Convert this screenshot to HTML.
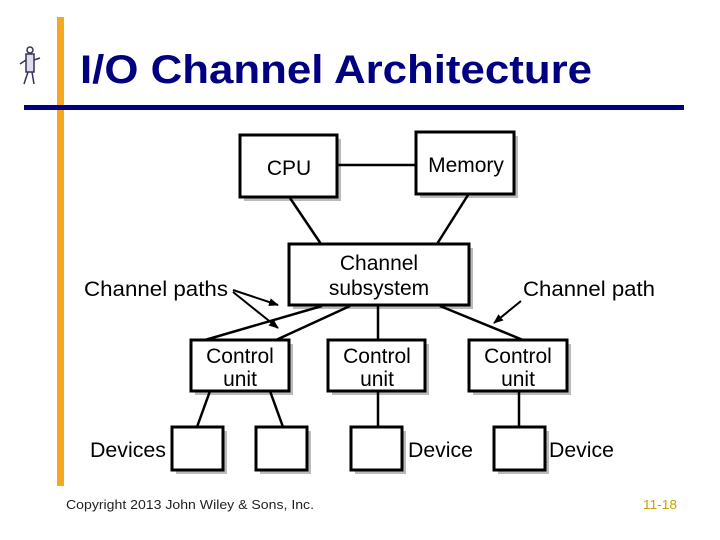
<!DOCTYPE html>
<html><head><meta charset="utf-8"><style>
body{margin:0;background:#fff;width:720px;height:540px;overflow:hidden;position:relative;font-family:"Liberation Sans",sans-serif}
</style></head><body>
<svg width="720" height="540" style="position:absolute;left:0;top:0" font-family="Liberation Sans, sans-serif">
<defs><marker id="a" markerWidth="10" markerHeight="8" refX="9" refY="4" orient="auto" markerUnits="userSpaceOnUse"><path d="M0,0 L10,4 L0,8 Z" fill="#000"/></marker></defs>
<rect x="57" y="17" width="7" height="469" fill="#f5a623"/>
<rect x="24" y="105" width="660" height="5" fill="#000080"/>
<text x="80" y="83" font-size="40" font-weight="bold" fill="#000080" textLength="512" lengthAdjust="spacingAndGlyphs">I/O Channel Architecture</text>
<g transform="translate(30,62)" stroke="#335" fill="none" stroke-width="1.5">
<circle cx="0" cy="-12" r="3"/><rect x="-4" y="-8" width="8" height="18" fill="#dde"/>
<path d="M-4,-2 L-10,2 M4,-2 L10,-4 M-2,10 L-6,22 M2,10 L4,22"/></g>
<g fill="#bbb">
<rect x="244" y="139" width="97" height="62"/><rect x="420" y="136" width="98" height="62"/>
<rect x="293" y="248" width="180" height="61"/>
<rect x="195" y="344" width="98" height="51"/><rect x="332" y="344" width="97" height="51"/><rect x="473" y="344" width="98" height="51"/>
<rect x="176" y="431" width="51" height="43"/><rect x="260" y="431" width="51" height="43"/><rect x="355" y="431" width="51" height="43"/><rect x="498" y="431" width="51" height="43"/>
</g>
<g fill="#fff" stroke="#000" stroke-width="3">
<rect x="240" y="135" width="97" height="62"/><rect x="416" y="132" width="98" height="62"/>
<rect x="289" y="244" width="180" height="61"/>
<rect x="191" y="340" width="98" height="51"/><rect x="328" y="340" width="97" height="51"/><rect x="469" y="340" width="98" height="51"/>
<rect x="172" y="427" width="51" height="43"/><rect x="256" y="427" width="51" height="43"/><rect x="351" y="427" width="51" height="43"/><rect x="494" y="427" width="51" height="43"/>
</g>
<g stroke="#000" stroke-width="2.5">
<line x1="337" y1="165" x2="416" y2="165"/>
<line x1="290" y1="198" x2="321" y2="244"/><line x1="468" y1="195" x2="437" y2="244"/>
<line x1="322" y1="306" x2="205" y2="340"/><line x1="350" y1="306" x2="276" y2="340"/>
<line x1="378" y1="306" x2="378" y2="340"/><line x1="440" y1="306" x2="523" y2="340"/>
<line x1="210" y1="391" x2="197" y2="427"/><line x1="270" y1="391" x2="283" y2="427"/>
<line x1="378" y1="391" x2="378" y2="427"/><line x1="519" y1="391" x2="519" y2="427"/>
</g>
<g stroke="#000" stroke-width="2">
<line x1="233" y1="290" x2="278" y2="305" marker-end="url(#a)"/>
<line x1="233" y1="292" x2="278" y2="328" marker-end="url(#a)"/>
<line x1="521" y1="301" x2="494" y2="323" marker-end="url(#a)"/>
</g>
<g font-size="21" fill="#000" text-anchor="middle">
<text x="289" y="175">CPU</text><text x="466" y="172">Memory</text>
<text x="379" y="270">Channel</text><text x="379" y="295">subsystem</text>
<text x="240" y="363">Control</text><text x="240" y="386">unit</text>
<text x="377" y="363">Control</text><text x="377" y="386">unit</text>
<text x="518" y="363">Control</text><text x="518" y="386">unit</text>
</g>
<g font-size="21" fill="#000">
<text x="84" y="296" textLength="144" lengthAdjust="spacingAndGlyphs">Channel paths</text>
<text x="523" y="296" textLength="132" lengthAdjust="spacingAndGlyphs">Channel path</text>
<text x="90" y="457" textLength="76" lengthAdjust="spacingAndGlyphs">Devices</text>
<text x="408" y="457" textLength="65" lengthAdjust="spacingAndGlyphs">Device</text>
<text x="549" y="457" textLength="65" lengthAdjust="spacingAndGlyphs">Device</text>
</g>
<text x="66" y="509" font-size="13" fill="#222" textLength="248" lengthAdjust="spacingAndGlyphs">Copyright 2013 John Wiley &amp; Sons, Inc.</text>
<text x="643" y="509" font-size="13" fill="#c8a000" textLength="34" lengthAdjust="spacingAndGlyphs">11-18</text>
</svg>
</body></html>
